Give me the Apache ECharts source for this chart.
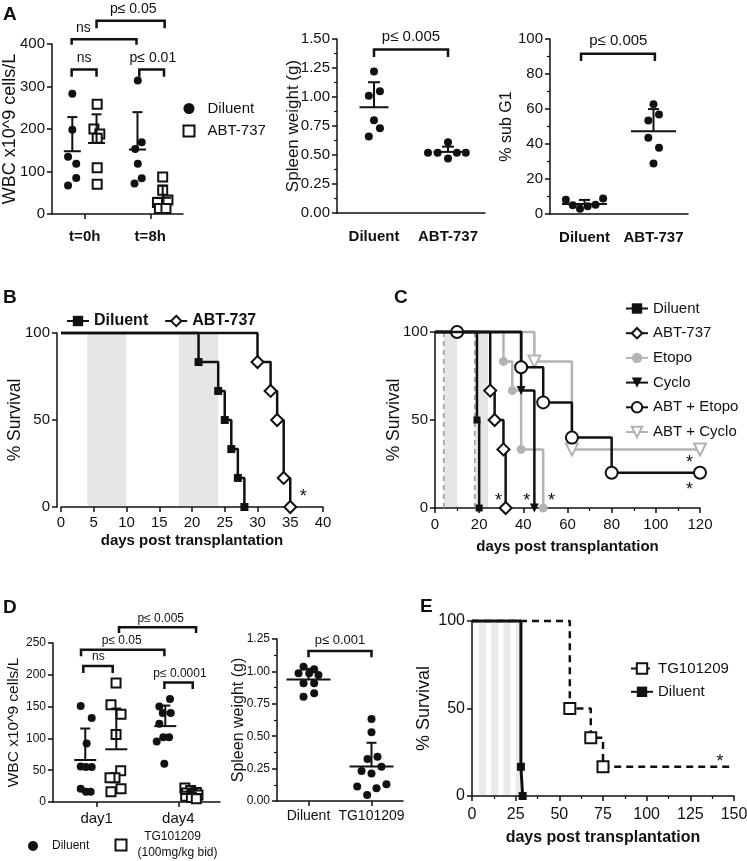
<!DOCTYPE html>
<html><head><meta charset="utf-8">
<script src="https://cdn.jsdelivr.net/npm/echarts@6/dist/echarts.min.js"></script>
<style>html,body{margin:0;padding:0;background:#fff}#c{width:747px;height:861px}</style>
</head><body><div id="c"></div>
<script>
// ===== DATA =====
// Panel A (left): WBC
const aWbcCats = ['t=0h', 't=8h'];
const aWbcDiluent0 = [283, 198, 135, 118, 85, 67];
const aWbcDiluent0Jit = [-0.19, -0.19, -0.255, -0.13, -0.13, -0.255];
const aWbcDiluent8 = [314, 153, 169, 118, 84, 72];
const aWbcDiluent8Jit = [-0.19, -0.23, -0.13, -0.19, -0.13, -0.24];
const aWbcAbt0 = [258, 200, 188, 178, 109, 70];
const aWbcAbt0Jit = [0.19, 0.14, 0.23, 0.19, 0.19, 0.19];
const aWbcAbt8 = [87, 56, 27, 33, 13, 13];
const aWbcAbt8Jit = [0.19, 0.19, 0.11, 0.27, 0.14, 0.24];
const aWbcDiluentBarPos = [-0.19, -0.195];
const aWbcAbtBarPos = [0.18, 0.19];
const aWbcBrackets = [[-0.2, 0.18, 340, 17, -0.01], [0.833, 1.21, 340, 17, 1.04], [-0.2, 0.79, 411, 13, -0.02], [0.18, 1.22, 455, 18, 0.74]];
const aWbcBracketLabels = ['ns', 'p\u2264 0.01', 'ns', 'p\u2264 0.05'];

// Panel A (middle): spleen weight
const aSpleenCats = ['Diluent', 'ABT-737'];
const aSpleenDiluent = [1.22, 1.01, 1.05, 0.80, 0.73, 0.66];
const aSpleenDiluentJit = [0, -0.07, 0.08, 0, 0.08, -0.07];
const aSpleenAbt = [0.61, 0.52, 0.52, 0.52, 0.52, 0.47];
const aSpleenAbtJit = [0, -0.27, -0.14, 0.12, 0.24, 0];
const aSpleenBrackets = [[0, 1, 1.41, 0.065, 0.5]];
const aSpleenBracketLabels = ['p\u2264 0.005'];

// Panel A (right): % sub G1
const aSubG1Cats = ['Diluent', 'ABT-737'];
const aSubG1Diluent = [8.2, 5.0, 3.0, 4.4, 5.3, 8.8];
const aSubG1DiluentJit = [-0.27, -0.17, -0.065, 0.046, 0.16, 0.27];
const aSubG1Abt = [62.7, 56.8, 53.5, 43.6, 37.9, 28.8];
const aSubG1AbtJit = [0, 0.08, -0.075, -0.075, 0.08, 0];
const aSubG1Brackets = [[-0.05, 1.02, 91.6, 4.2, 0.49]];
const aSubG1BracketLabels = ['p\u2264 0.005'];

// Panel B: survival
const bDiluentDays = [0, 21, 24, 25, 26, 27, 28];
const bDiluentSurv = [100, 83.3, 66.7, 50, 33.3, 16.7, 0];
const bAbtDays = [0, 30, 32, 33, 34, 35];
const bAbtSurv = [100, 83.3, 66.7, 50, 16.7, 0];
const bTreatBands = [[4, 10], [18, 24]];
const bStars = [[37, 8]];

// Panel C: survival
const cDiluentDays = [0, 19, 20];
const cDiluentSurv = [100, 50, 0];
const cAbtDays = [0, 25, 27, 31, 32];
const cAbtSurv = [100, 66.7, 50, 33.3, 0];
const cEtopoDays = [0, 31, 35, 39, 49];
const cEtopoSurv = [100, 83.3, 66.7, 33.3, 0];
const cCycloDays = [0, 39, 45];
const cCycloSurv = [100, 66.7, 0];
const cAbtEtopoDays = [0, 10, 39, 49, 62, 80, 120];
const cAbtEtopoSurv = [100, 100, 80, 60, 40, 20, 20];
const cAbtCycloDays = [0, 45, 62, 120];
const cAbtCycloSurv = [100, 83.3, 33.3, 33.3];
const cTreatBands = [[4, 10], [18, 24]];
const cStars = [[28.7, 6.4], [41.5, 6.4], [52.8, 6.4], [115.2, 27.7], [115.2, 12.5]];

// Panel D (left): WBC
const dWbcCats = ['day1', 'day4'];
const dWbcDiluent1 = [151, 132, 92, 56, 55, 55, 21, 16, 16];
const dWbcDiluent1Jit = [-0.196, -0.061, -0.123, -0.196, -0.131, -0.061, -0.196, -0.131, -0.074];
const dWbcTg1 = [187, 153, 138, 106, 49, 38, 38, 21, 16];
const dWbcTg1Jit = [0.237, 0.175, 0.298, 0.237, 0.294, 0.224, 0.163, 0.298, 0.175];
const dWbcDiluent4 = [162, 150, 140, 140, 123, 102, 102, 95, 60];
const dWbcDiluent4Jit = [-0.102, -0.233, -0.191, -0.093, -0.233, -0.184, -0.114, -0.265, -0.172];
const dWbcTg4 = [22, 18, 15, 14, 12, 11, 9, 7, 5];
const dWbcTg4Jit = [0.08, 0.15, 0.22, 0.1, 0.17, 0.24, 0.09, 0.16, 0.22];
const dWbcDiluentBarPos = [-0.14, -0.16];
const dWbcTgBarPos = [0.24, 0.16];
const dWbcBrackets = [[-0.164, 0.196, 214, 11, 0.02], [-0.192, 0.829, 239.5, 10.5, 0.306], [0.273, 1.217, 274.7, 9, 0.784], [0.829, 1.176, 188, 10.5, 1.02]];
const dWbcBracketLabels = ['ns', 'p\u2264 0.05', 'p\u2264 0.005', 'p\u2264 0.0001'];

// Panel D (right): spleen weight
const dSpleenCats = ['Diluent', 'TG101209'];
const dSpleenDiluent = [1.036, 1.016, 0.985, 0.985, 0.972, 0.908, 0.908, 0.805, 0.831];
const dSpleenDiluentJit = [-0.079, 0.09, -0.158, 0.011, 0.158, -0.079, 0.09, -0.079, 0.09];
const dSpleenTg = [0.633, 0.530, 0.324, 0.342, 0.231, 0.213, 0.265, 0.111, 0.129, 0.098, 0.046];
const dSpleenTgJit = [0, 0, -0.063, 0.095, -0.158, 0, 0.158, -0.227, 0.237, 0.079, -0.069];
const dSpleenBrackets = [[0, 1, 1.157, 0.048, 0.5]];
const dSpleenBracketLabels = ['p\u2264 0.001'];

// Panel E: survival
const eTgDays = [0, 56, 68, 75, 150];
const eTgSurv = [100, 50, 33.3, 16.7, 16.7];
const eDiluentDays = [0, 28, 29];
const eDiluentSurv = [100, 16.7, 0];
const eTreatBands = [[4, 8], [11, 15], [18, 22], [25, 29]];
const eStars = [[142, 21.5]];

// ===== HELPERS =====
const FONT = 'Arial, "Liberation Sans", Helvetica, sans-serif';
const INK = '#111111';
const GREY = '#b3b3b3';
const mean = a => a.reduce((s, v) => s + v, 0) / a.length;
const sd = a => { const m = mean(a); return Math.sqrt(a.reduce((s, v) => s + (v - m) * (v - m), 0) / (a.length - 1)); };

function catAxis(grid, cats, min, max, o) {
  const vals = cats.map((_, i) => i);
  return {
    type: 'value', gridIndex: grid, min, max,
    axisLine: { show: true, onZero: false, lineStyle: { color: INK, width: 1.5 } },
    axisTick: { show: o.ticks, customValues: vals, length: 5, lineStyle: { color: INK, width: 1.5 } },
    axisLabel: { customValues: vals, formatter: v => cats[Math.round(v)], color: INK, fontFamily: FONT, fontSize: o.fs, fontWeight: o.fw || 'normal', margin: o.margin },
    splitLine: { show: false }
  };
}
function numAxis(grid, min, max, interval, o) {
  return {
    type: 'value', gridIndex: grid, min, max, interval,
    axisLine: { show: true, onZero: false, lineStyle: { color: INK, width: 1.5 } },
    axisTick: { show: true, length: 5, lineStyle: { color: INK, width: 1.5 } },
    minorTick: { show: !!o.minor, splitNumber: o.minor || 5, length: 3, lineStyle: { color: INK, width: 1.2 } },
    axisLabel: { color: INK, fontFamily: FONT, fontSize: o.fs, margin: o.margin || 7, formatter: o.fmt },
    splitLine: { show: false },
    name: o.name, nameLocation: 'middle', nameGap: o.gap, nameRotate: o.rot || 0, nameMoveOverlap: false,
    nameTextStyle: { color: INK, fontFamily: FONT, fontSize: o.nfs, fontWeight: o.nfw || 'normal' },
    offset: o.offset || 0
  };
}
function dots(grid, name, cat, vals, jit, filled, size) {
  return {
    type: 'scatter', name, xAxisIndex: grid, yAxisIndex: grid, z: 3,
    symbol: filled ? 'circle' : 'rect', symbolSize: size,
    itemStyle: filled ? { color: INK, opacity: 1 } : { color: '#fff', borderColor: INK, borderWidth: 2, opacity: 1 },
    data: vals.map((v, i) => [cat + jit[i], v])
  };
}
function errBars(grid, items, meanW, capW) {
  return {
    type: 'custom', xAxisIndex: grid, yAxisIndex: grid, z: 4, clip: false, silent: true,
    data: items,
    renderItem(params, api) {
      const x = api.value(0), m = api.value(1), s = api.value(2);
      const pm = api.coord([x, m]), ps = api.coord([x, m + s]);
      const st = { stroke: INK, lineWidth: 2 };
      return { type: 'group', children: [
        { type: 'line', shape: { x1: pm[0] - meanW / 2, y1: pm[1], x2: pm[0] + meanW / 2, y2: pm[1] }, style: st },
        { type: 'line', shape: { x1: pm[0], y1: pm[1], x2: ps[0], y2: ps[1] }, style: st },
        { type: 'line', shape: { x1: ps[0] - capW / 2, y1: ps[1], x2: ps[0] + capW / 2, y2: ps[1] }, style: st }
      ] };
    }
  };
}
function brackets(grid, items, labels, fs, gap) {
  return {
    type: 'custom', xAxisIndex: grid, yAxisIndex: grid, z: 4, clip: false, silent: true,
    data: items,
    renderItem(params, api) {
      const x1 = api.value(0), x2 = api.value(1), y = api.value(2), drop = api.value(3), lx = api.value(4);
      const a = api.coord([x1, y - drop]), b = api.coord([x1, y]), c = api.coord([x2, y]), d = api.coord([x2, y - drop]);
      const t = api.coord([lx, y]);
      return { type: 'group', children: [
        { type: 'polyline', shape: { points: [a, b, c, d] }, style: { stroke: INK, lineWidth: 2.5, fill: 'none' } },
        { type: 'text', x: t[0], y: t[1] - gap, style: { text: labels[params.dataIndex], fill: INK, fontFamily: FONT, fontSize: fs, align: 'center', verticalAlign: 'bottom', textAlign: 'center', textVerticalAlign: 'bottom' } }
      ] };
    }
  };
}
function bands(grid, items, yMax, dashEdge, color) {
  return {
    type: 'custom', xAxisIndex: grid, yAxisIndex: grid, z: 1, silent: true, clip: false,
    data: items,
    renderItem(params, api) {
      const p0 = api.coord([api.value(0), yMax]), p1 = api.coord([api.value(1), 0]);
      const ch = [{ type: 'rect', shape: { x: p0[0], y: p0[1], width: p1[0] - p0[0], height: p1[1] - p0[1] - 1 }, style: { fill: color } }];
      if (dashEdge) ch.push({ type: 'line', shape: { x1: p0[0], y1: p0[1], x2: p0[0], y2: p1[1] }, style: { stroke: '#9a9a9a', lineWidth: 1.5, lineDash: [5, 4] } });
      return { type: 'group', children: ch };
    }
  };
}
function stars(grid, items) {
  return {
    type: 'custom', xAxisIndex: grid, yAxisIndex: grid, z: 5, silent: true, clip: false,
    data: items,
    renderItem(params, api) {
      const c = api.coord([api.value(0), api.value(1)]);
      return { type: 'text', x: c[0], y: c[1] + 4, style: { text: '*', fill: INK, fontFamily: FONT, fontSize: 18, align: 'center', verticalAlign: 'middle', textAlign: 'center', textVerticalAlign: 'middle' } };
    }
  };
}
function km(grid, name, days, surv, o) {
  const n = days.length;
  return {
    type: 'line', name, xAxisIndex: grid, yAxisIndex: grid, step: 'end', z: o.z || 3, clip: false,
    symbol: o.symbol, symbolSize: o.size, symbolRotate: o.rot || 0, showAllSymbol: true,
    lineStyle: { color: o.color, width: o.lw || 2.5, type: o.dash || 'solid' },
    itemStyle: o.open ? { color: '#fff', borderColor: o.color, borderWidth: 2 } : { color: o.color },
    data: days.map((d, i) => ({ value: [d, surv[i]], symbol: (i === 0 || (o.noLast && i === n - 1)) ? 'none' : o.symbol }))
  };
}
const nameOnly = n => n.split('|')[0];

// ===== OPTION =====
const series = [
  // A left
  dots(0, 'Diluent|a', 0, aWbcDiluent0, aWbcDiluent0Jit, true, 8),
  dots(0, 'Diluent|a', 1, aWbcDiluent8, aWbcDiluent8Jit, true, 8),
  dots(0, 'ABT-737|a', 0, aWbcAbt0, aWbcAbt0Jit, false, 9),
  dots(0, 'ABT-737|a', 1, aWbcAbt8, aWbcAbt8Jit, false, 9),
  errBars(0, [[0 + aWbcDiluentBarPos[0], mean(aWbcDiluent0), sd(aWbcDiluent0)], [1 + aWbcDiluentBarPos[1], mean(aWbcDiluent8), sd(aWbcDiluent8)],
              [0 + aWbcAbtBarPos[0], mean(aWbcAbt0), sd(aWbcAbt0)], [1 + aWbcAbtBarPos[1], mean(aWbcAbt8), sd(aWbcAbt8)]], 17, 10),
  brackets(0, aWbcBrackets, aWbcBracketLabels, 14, 4),
  // A middle
  dots(1, 'Diluent|am', 0, aSpleenDiluent, aSpleenDiluentJit, true, 8),
  dots(1, 'ABT-737|am', 1, aSpleenAbt, aSpleenAbtJit, true, 8),
  errBars(1, [[0, mean(aSpleenDiluent), sd(aSpleenDiluent)], [1, mean(aSpleenAbt), sd(aSpleenAbt)]], 29, 12),
  brackets(1, aSpleenBrackets, aSpleenBracketLabels, 15, 5),
  // A right
  dots(2, 'Diluent|ar', 0, aSubG1Diluent, aSubG1DiluentJit, true, 8),
  dots(2, 'ABT-737|ar', 1, aSubG1Abt, aSubG1AbtJit, true, 8),
  errBars(2, [[0, mean(aSubG1Diluent), sd(aSubG1Diluent)], [1, mean(aSubG1Abt), sd(aSubG1Abt)]], 45, 11),
  brackets(2, aSubG1Brackets, aSubG1BracketLabels, 15, 5),
  // B
  bands(3, bTreatBands, 100, false, '#e6e6e6'),
  km(3, 'Diluent|b', bDiluentDays, bDiluentSurv, { symbol: 'rect', size: 8, color: INK, z: 4 }),
  km(3, 'ABT-737|b', bAbtDays, bAbtSurv, { symbol: 'diamond', size: 12, color: INK, open: true, z: 3 }),
  stars(3, bStars),
  // C
  bands(4, cTreatBands, 100, true, '#e6e6e6'),
  km(4, 'Etopo|c', cEtopoDays, cEtopoSurv, { symbol: 'circle', size: 9, color: GREY, z: 3 }),
  km(4, 'ABT + Cyclo|c', cAbtCycloDays, cAbtCycloSurv, { symbol: 'triangle', rot: 180, size: 12, color: GREY, open: true, z: 3 }),
  km(4, 'Diluent|c', cDiluentDays, cDiluentSurv, { symbol: 'rect', size: 7, color: INK, z: 5 }),
  km(4, 'ABT-737|c', cAbtDays, cAbtSurv, { symbol: 'diamond', size: 12, color: INK, open: true, z: 4 }),
  km(4, 'Cyclo|c', cCycloDays, cCycloSurv, { symbol: 'triangle', rot: 180, size: 9, color: INK, z: 4 }),
  km(4, 'ABT + Etopo|c', cAbtEtopoDays, cAbtEtopoSurv, { symbol: 'circle', size: 12, color: INK, open: true, z: 4 }),
  stars(4, cStars),
  // D left
  dots(5, 'Diluent|d', 0, dWbcDiluent1, dWbcDiluent1Jit, true, 8),
  dots(5, 'Diluent|d', 1, dWbcDiluent4, dWbcDiluent4Jit, true, 8),
  dots(5, 'TG|d', 0, dWbcTg1, dWbcTg1Jit, false, 9),
  dots(5, 'TG|d', 1, dWbcTg4, dWbcTg4Jit, false, 9),
  errBars(5, [[0 + dWbcDiluentBarPos[0], mean(dWbcDiluent1), sd(dWbcDiluent1)], [1 + dWbcDiluentBarPos[1], mean(dWbcDiluent4), sd(dWbcDiluent4)],
              [0 + dWbcTgBarPos[0], mean(dWbcTg1), sd(dWbcTg1)], [1 + dWbcTgBarPos[1], mean(dWbcTg4), sd(dWbcTg4)]], 22, 10),
  brackets(5, dWbcBrackets, dWbcBracketLabels, 12, 3),
  // D right
  dots(6, 'Diluent|dr', 0, dSpleenDiluent, dSpleenDiluentJit, true, 8),
  dots(6, 'TG|dr', 1, dSpleenTg, dSpleenTgJit, true, 8),
  errBars(6, [[0, mean(dSpleenDiluent), sd(dSpleenDiluent)], [1, mean(dSpleenTg), sd(dSpleenTg)]], 44, 10),
  brackets(6, dSpleenBrackets, dSpleenBracketLabels, 13, 4),
  // E
  bands(7, eTreatBands, 100, false, '#eaeaea'),
  km(7, 'TG101209|e', eTgDays, eTgSurv, { symbol: 'rect', size: 11, color: INK, open: true, dash: [7, 5], noLast: true, z: 3 }),
  km(7, 'Diluent|e', eDiluentDays, eDiluentSurv, { symbol: 'rect', size: 8, color: INK, lw: 3, z: 4 }),
  stars(7, eStars)
];

const option = {
  animation: false,
  backgroundColor: '#fff',
  textStyle: { fontFamily: FONT },
  grid: [
    { left: 52, top: 44, width: 131, height: 170, outerBoundsMode: 'none' },
    { left: 337, top: 39, width: 148, height: 174, outerBoundsMode: 'none' },
    { left: 550, top: 39, width: 138, height: 175, outerBoundsMode: 'none' },
    { left: 61, top: 333, width: 262, height: 174, outerBoundsMode: 'none' },
    { left: 435, top: 332, width: 265, height: 176, outerBoundsMode: 'none' },
    { left: 53, top: 643, width: 167, height: 159, outerBoundsMode: 'none' },
    { left: 277, top: 639, width: 126, height: 162, outerBoundsMode: 'none' },
    { left: 472, top: 621, width: 262, height: 175, outerBoundsMode: 'none' }
  ],
  xAxis: [
    catAxis(0, aWbcCats, -0.5, 1.5, { ticks: true, fs: 15, fw: 'bold', margin: 15 }),
    catAxis(1, aSpleenCats, -0.5, 1.5, { ticks: false, fs: 15, fw: 'bold', margin: 16 }),
    catAxis(2, aSubG1Cats, -0.5, 1.5, { ticks: false, fs: 15, fw: 'bold', margin: 16 }),
    numAxis(3, 0, 40, 5, { fs: 15, margin: 8, name: 'days post transplantation', gap: 26, nfs: 15, nfw: 'bold' }),
    numAxis(4, 0, 120, 20, { fs: 15, margin: 9, minor: 2, name: 'days post transplantation', gap: 31, nfs: 15, nfw: 'bold' }),
    catAxis(5, dWbcCats, -0.535, 1.51, { ticks: true, fs: 15, margin: 9 }),
    catAxis(6, dSpleenCats, -0.5, 1.5, { ticks: true, fs: 14, margin: 8 }),
    numAxis(7, 0, 150, 25, { fs: 16, margin: 11, minor: 2, name: 'days post transplantation', gap: 34, nfs: 16, nfw: 'bold' })
  ],
  yAxis: [
    numAxis(0, 0, 400, 100, { fs: 15, name: 'WBC x10^9 cells/L', gap: 33, nfs: 18, rot: 90 }),
    numAxis(1, 0, 1.5, 0.25, { fs: 15, minor: 2, fmt: v => v.toFixed(2), name: 'Spleen weight (g)', gap: 35, nfs: 17, rot: 90 }),
    numAxis(2, 0, 100, 20, { fs: 15, minor: 2, name: '% sub G1', gap: 35, nfs: 16, rot: 90 }),
    numAxis(3, 0, 100, 50, { fs: 15, name: '% Survival', gap: 33, nfs: 17.5, rot: 90, offset: 4 }),
    numAxis(4, 0, 100, 50, { fs: 15, name: '% Survival', gap: 32, nfs: 17.5, rot: 90 }),
    numAxis(5, 0, 250, 50, { fs: 12, name: 'WBC x10^9 cells/L', gap: 31, nfs: 15.5, rot: 90 }),
    numAxis(6, 0, 1.25, 0.25, { fs: 12, minor: 2, fmt: v => v.toFixed(2), name: 'Spleen weight (g)', gap: 30, nfs: 16, rot: 90 }),
    numAxis(7, 0, 100, 50, { fs: 16, name: '% Survival', gap: 39, nfs: 18, rot: 90 })
  ],
  legend: [
    { left: 177.5, top: 96, orient: 'vertical', itemWidth: 11, itemHeight: 11, itemGap: 7.6, data: ['Diluent|a', 'ABT-737|a'], formatter: nameOnly, textStyle: { fontSize: 15, color: INK, fontFamily: FONT, padding: [0, 0, 0, 8] } },
    { left: 61, top: 308, orient: 'horizontal', itemWidth: 22, itemHeight: 13, itemGap: 16, data: ['Diluent|b', 'ABT-737|b'], formatter: nameOnly, textStyle: { fontSize: 16, fontWeight: 'bold', color: INK, fontFamily: FONT } },
    { left: 620, top: 296, orient: 'vertical', itemWidth: 22, itemHeight: 13, itemGap: 9.7, data: ['Diluent|c', 'ABT-737|c', 'Etopo|c', 'Cyclo|c', 'ABT + Etopo|c', 'ABT + Cyclo|c'], formatter: nameOnly, textStyle: { fontSize: 15, color: INK, fontFamily: FONT } },
    { left: 23, top: 835, itemWidth: 10, itemHeight: 10, data: ['Diluent|d'], formatter: nameOnly, textStyle: { fontSize: 12, color: INK, fontFamily: FONT, padding: [0, 0, 0, 9] } },
    { left: 109.5, top: 824, itemWidth: 11, itemHeight: 11, data: ['TG|d'], formatter: () => '  TG101209\n(100mg/kg bid)', textStyle: { fontSize: 12, lineHeight: 16, color: INK, fontFamily: FONT, padding: [0, 0, 0, 6] } },
    { left: 625, top: 656, orient: 'vertical', itemWidth: 22, itemHeight: 13, itemGap: 8.3, data: ['TG101209|e', 'Diluent|e'], formatter: nameOnly, textStyle: { fontSize: 15, color: INK, fontFamily: FONT } }
  ],
  graphic: [
    { type: 'text', left: 3, top: 5, style: { text: 'A', fontSize: 19, fontWeight: 'bold', fontFamily: FONT, fill: INK } },
    { type: 'text', left: 3, top: 288, style: { text: 'B', fontSize: 19, fontWeight: 'bold', fontFamily: FONT, fill: INK } },
    { type: 'text', left: 394, top: 288, style: { text: 'C', fontSize: 19, fontWeight: 'bold', fontFamily: FONT, fill: INK } },
    { type: 'text', left: 3, top: 598, style: { text: 'D', fontSize: 19, fontWeight: 'bold', fontFamily: FONT, fill: INK } },
    { type: 'text', left: 420, top: 597, style: { text: 'E', fontSize: 19, fontWeight: 'bold', fontFamily: FONT, fill: INK } }
  ],
  series
};
const chart = echarts.init(document.getElementById('c'), null, { renderer: 'canvas' });
chart.setOption(option);
</script>
</body></html>
